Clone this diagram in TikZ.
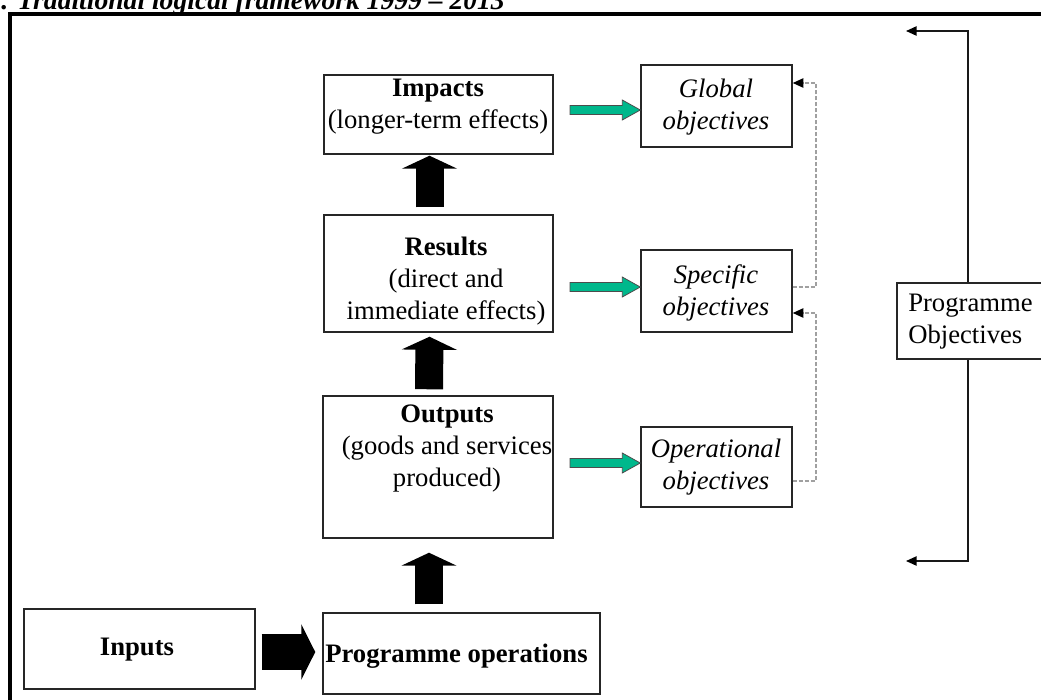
\documentclass[tikz,border=0pt]{standalone}
\usepackage{fontspec}
\setmainfont{Liberation Serif}
\usetikzlibrary{arrows.meta,calc,fit}
\definecolor{tealgreen}{RGB}{0,184,140}
\definecolor{dashgray}{RGB}{160,160,160}
\newcommand\greenarrow[2]{%
  \draw[garrow] let \p1=(#1), \p2=(#2) in
    (\x1,\y1+3.4pt) -- (\x2-13.5pt,\y1+3.4pt) -- (\x2-13.5pt,\y1+7.5pt) -- (\x2,\y1)
    -- (\x2-13.5pt,\y1-7.5pt) -- (\x2-13.5pt,\y1-3.4pt) -- (\x1,\y1-3.4pt) -- cycle;}
\begin{document}
\begin{tikzpicture}[x=0.75pt,y=-0.75pt,
  box/.style={draw=black!85, line width=1.1pt, inner sep=0pt},
  txt/.style={font=\fontsize{20}{24}\selectfont, align=center, inner sep=0pt},
  blockarrow/.style={black, line width=#1},
  garrow/.style={fill=tealgreen, draw=black!70, line width=0.6pt},
  dashconn/.style={dashgray, line width=1.2pt, dash pattern=on 3pt off 1.5pt,
    -{Triangle[length=8pt,width=7pt,color=black,fill=black]}},
  bracketline/.style={black!90, line width=1.1pt,
    -{Triangle[length=8pt,width=7pt,color=black,fill=black]}}]
\useasboundingbox (0,0) rectangle (1041,699);

% title and frame
\node[anchor=base west, inner sep=0pt, font=\fontsize{20.7}{22}\selectfont\bfseries\itshape] (title) at (1,10) {. Traditional logical framework 1999 – 2013};
\draw[line width=2.6pt, line join=miter] (10,720) -- (10,14) -- (1070,14);

% boxes
\node[box, fit={(324,75) (553,154)}] (impacts) {};
\node[box, fit={(324,215) (553,332)}] (results) {};
\node[box, fit={(323,396) (553,538)}] (outputs) {};
\node[box, fit={(323,613) (600,694)}] (progops) {};
\node[box, fit={(24,609) (255,689)}] (inputs) {};
\node[box, fit={(641,65) (792,147)}] (global) {};
\node[box, fit={(641,250) (792,332)}] (specific) {};
\node[box, fit={(641,427) (792,507)}] (operational) {};
\node[box, fit={(897,283) (1070,359)}] (progobj) {};

% texts
\node[txt] (impactsT) at (438,107) {\textbf{Impacts}\\(longer-term effects)};
\node[txt] (resultsT) at (446,281) {\textbf{Results}\\(direct and\\immediate effects)};
\node[txt] (outputsT) at (447,449) {\textbf{Outputs}\\(goods and services\\produced)};
\node[txt, anchor=west] (progopsT) at (325,656) {\textbf{Programme operations}};
\node[txt] (inputsT) at (137,650) {\textbf{Inputs}};
\node[txt] (globalT) at (716,107) {\textit{Global}\\\textit{objectives}};
\node[txt] (specificT) at (716,293) {\textit{Specific}\\\textit{objectives}};
\node[txt] (operationalT) at (716,467) {\textit{Operational}\\\textit{objectives}};
\node[txt, align=left, anchor=west] (progobjT) at (908,322) {Programme\\Objectives};

% black block arrows
\draw[blockarrow=21pt, -{Triangle[width=41.25pt,length=9.75pt]}]
  ($(results.north)+(-9,-7)$) -- ($(impacts.south)+(-9,1)$);
\draw[blockarrow=21pt, -{Triangle[width=41.25pt,length=9.75pt]}]
  ($(outputs.north)+(-9,-6)$) -- ($(results.south)+(-9,4)$);
\draw[blockarrow=21pt, -{Triangle[width=41.25pt,length=9.75pt]}]
  ($(outputs.south |- progops.north)+(-9,-8)$) -- ($(outputs.south)+(-9,14)$);
\draw[blockarrow=27pt, -{Triangle[width=41.25pt,length=10.5pt]}]
  ($(inputs.east)+(6,3)$) -- ($(inputs.east -| progops.west)+(-7,3)$);

% green arrows
\coordinate (ga1) at (570,110);
\coordinate (ga2) at (570,287);
\coordinate (ga3) at (570,463);
\greenarrow{ga1}{global.west |- ga1}
\greenarrow{ga2}{specific.west |- ga2}
\greenarrow{ga3}{operational.west |- ga3}

% dashed feedback connectors
\coordinate (dA) at (816,287);
\coordinate (dB) at (816,83);
\coordinate (dC) at (816,481);
\coordinate (dD) at (816,313);
\draw[dashconn] (specific.east |- dA) -- (dA) -- (dB) -- (global.east |- dB);
\draw[dashconn] (operational.east |- dC) -- (dC) -- (dD) -- (specific.east |- dD);

% bracket for programme objectives
\coordinate (bT) at (968,31);
\coordinate (bB) at (968,561);
\coordinate (aT) at (906,31);
\coordinate (aB) at (906,561);
\draw[bracketline] (bT |- progobj.north) -- (bT) -- (aT);
\draw[bracketline] (bB |- progobj.south) -- (bB) -- (aB);
\end{tikzpicture}
\end{document}
